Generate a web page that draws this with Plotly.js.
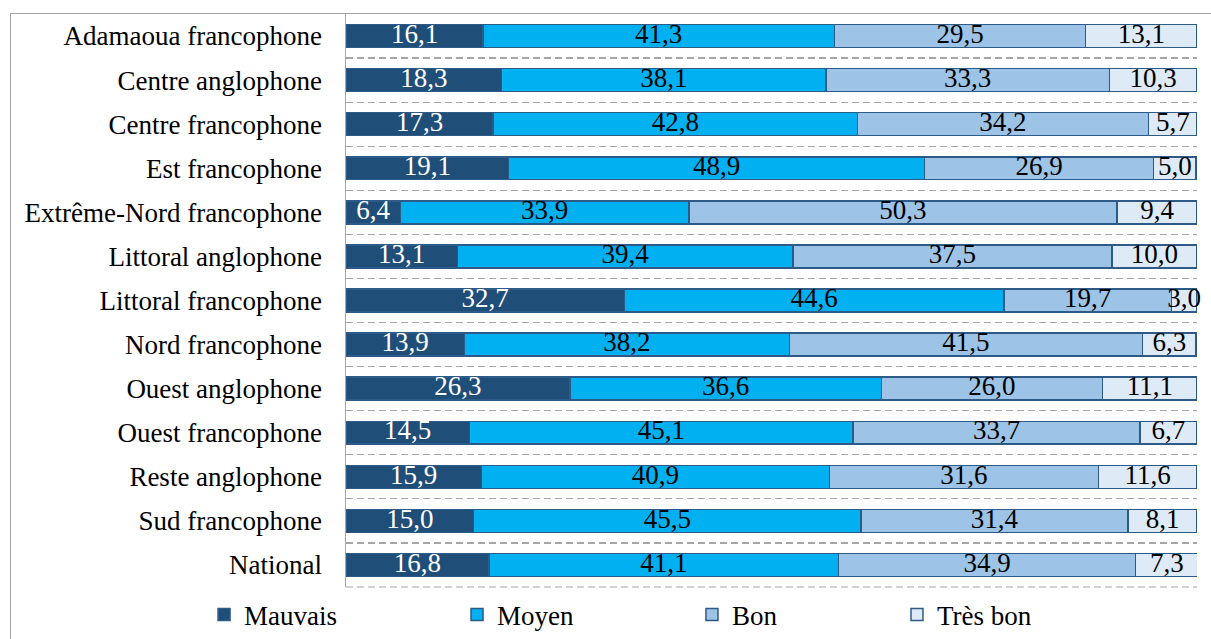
<!DOCTYPE html>
<html>
<head>
<meta charset="utf-8">
<script src="https://cdn.plot.ly/plotly-3.0.1.min.js"></script>
<style>
html,body{margin:0;padding:0;background:#fff;overflow:hidden;}
#wrap{position:relative;width:1211px;height:639px;}
#chart{position:absolute;left:0;top:0;width:1211px;height:639px;}
#frame{position:absolute;left:10px;top:13px;width:1300px;height:700px;border:1.5px solid #a6a6a6;pointer-events:none;}
</style>
</head>
<body>
<div id="wrap"><div id="chart"></div><div id="frame"></div></div>
<script>
const regions = ["Adamaoua francophone","Centre anglophone","Centre francophone","Est francophone","Extrême-Nord francophone","Littoral anglophone","Littoral francophone","Nord francophone","Ouest anglophone","Ouest francophone","Reste anglophone","Sud francophone","National"];
const mauvais = [16.1,18.3,17.3,19.1,6.4,13.1,32.7,13.9,26.3,14.5,15.9,15.0,16.8];
const moyen   = [41.3,38.1,42.8,48.9,33.9,39.4,44.6,38.2,36.6,45.1,40.9,45.5,41.1];
const bon     = [29.5,33.3,34.2,26.9,50.3,37.5,19.7,41.5,26.0,33.7,31.6,31.4,34.9];
const tresBon = [13.1,10.3,5.7,5.0,9.4,10.0,3.0,6.3,11.1,6.7,11.6,8.1,7.3];
const seriesNames = ["Mauvais","Moyen","Bon","Très bon"];

const colors = ["#1F4E79","#00B0F0","#9DC3E6","#DEEBF7"];
const textColors = ["#ffffff","#000000","#000000","#000000"];
const legendX = [0.1685, 0.3774, 0.5714, 0.7407];
const FONT = "'Liberation Serif', 'Times New Roman', Times, serif";

const vals = [mauvais, moyen, bon, tresBon];
const traces = vals.map((v,i)=>({
  type:"bar", orientation:"h",
  x:v, y:regions, name:seriesNames[i],
  marker:{color:colors[i], line:{color:"#2E5A88", width:1.5}},
  textposition:"none",
  hoverinfo:"skip",
  legend: i===0 ? "legend" : "legend"+(i+1)
}));

// value labels centred in each segment
const cum = regions.map(()=>0);
vals.forEach((v,i)=>{
  const mids = v.map((val,j)=>{ const m = cum[j] + val/2; cum[j] += val; return m; });
  traces.push({
    type:"scatter", mode:"text", x:mids, y:regions,
    text:v.map(val=>val.toFixed(1).replace(".", ",")),
    textposition:"middle center", cliponaxis:false,
    textfont:{family:FONT, size:27, color:textColors[i]},
    showlegend:false, hoverinfo:"skip"
  });
});

function leg(x){
  return {orientation:"h", xref:"container", yref:"container", x:x, xanchor:"left", y:0.0376, yanchor:"middle",
    font:{family:FONT, size:27, color:"#000"}, bgcolor:"rgba(0,0,0,0)",
    itemwidth:30, traceorder:"normal"};
}

const layout = {
  width:1211, height:639,
  margin:{l:346, r:14, t:14, b:52},
  paper_bgcolor:"rgba(0,0,0,0)", plot_bgcolor:"#fff",
  barmode:"stack", bargap:0.48,
  showlegend:true,
  legend:leg(legendX[0]), legend2:leg(legendX[1]), legend3:leg(legendX[2]), legend4:leg(legendX[3]),
  xaxis:{range:[0,100], showgrid:false, zeroline:false, showticklabels:false, showline:false, fixedrange:true},
  yaxis:{type:"category", range:[regions.length-0.5, -0.5], autorange:false, tickson:"boundaries",
    showgrid:true, gridcolor:"#a6a6a6", gridwidth:1.2, griddash:"7px,4px",
    showline:true, linecolor:"#a6a6a6", linewidth:1.5,
    ticks:"", ticklabelstandoff:17,
    tickfont:{family:FONT, size:27, color:"#000"}, fixedrange:true},
  shapes:[{type:"line", xref:"paper", yref:"paper", x0:0, x1:1, y0:0, y1:0,
    line:{color:"#a6a6a6", width:1.2, dash:"7px,4px"}, layer:"below"}]
};

Plotly.newPlot("chart", traces, layout, {displayModeBar:false, staticPlot:true});
</script>
</body>
</html>
